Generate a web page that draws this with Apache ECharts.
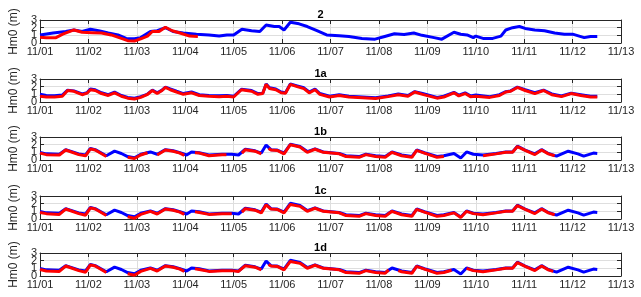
<!DOCTYPE html>
<html><head><meta charset="utf-8">
<script src="https://cdn.jsdelivr.net/npm/echarts@6/dist/echarts.min.js"></script>
<style>html,body{margin:0;padding:0;background:#fff}#c{width:641px;height:297px}</style>
</head><body><div id="c"></div>
<script>
const xLabels = ['11/01','11/02','11/03','11/04','11/05','11/06','11/07','11/08','11/09','11/10','11/11','11/12','11/13'];
const yLabels = ['0','1','2','3'];
const yTicksEven = [0, 2];
const yTicksOdd = [1, 3];
const panelTitles = ['2','1a','1b','1c','1d'];
const yName = 'Hm0 (m)';

// days since 11/01 00:00, Hm0 (m); null = gap
const blue2 = [[0,1.05],[0.27,1.3],[0.53,1.5],[0.7,1.7],[0.87,1.5],[1.04,1.8],[1.21,1.6],[1.41,1.3],[1.61,1.05],[1.78,0.6],[1.95,0.55],[2.08,0.7],[2.28,1.5],[2.42,1.6],[2.59,2.0],[2.75,1.5],[2.96,1.3],[3.23,1.15],[3.49,1.05],[3.7,0.9],[3.86,1.05],[4.0,1.05],[4.17,1.8],[4.37,1.6],[4.54,1.5],[4.67,2.35],[4.84,2.15],[4.94,2.15],[5.04,1.7],[5.17,2.7],[5.35,2.5],[5.52,2.15],[5.72,1.6],[5.92,1.05],[6.18,0.95],[6.38,0.85],[6.65,0.6],[6.92,0.5],[7.12,0.85],[7.32,1.2],[7.52,1.1],[7.72,1.3],[7.89,1.0],[8.14,0.7],[8.3,0.5],[8.55,1.4],[8.69,1.15],[8.82,1.05],[8.95,0.7],[9.0,0.9],[9.15,0.6],[9.35,0.6],[9.52,0.9],[9.62,1.7],[9.76,2.0],[9.9,2.15],[10.02,1.9],[10.22,1.7],[10.42,1.6],[10.63,1.3],[10.83,1.15],[11.0,1.15],[11.24,0.7],[11.37,0.85],[11.51,0.85]];
const red2 = [[0,0.75],[0.13,0.7],[0.33,0.7],[0.47,1.15],[0.7,1.7],[0.87,1.4],[1.08,1.35],[1.27,1.3],[1.47,1.05],[1.68,0.6],[1.81,0.3],[1.95,0.25],[2.08,0.55],[2.22,0.9],[2.32,1.5],[2.46,1.5],[2.59,2.05],[2.73,1.6],[2.89,1.3],[3.09,0.9],[3.26,0.85]];

const blue1a = [[0,1.0],[0.13,0.85],[0.3,0.8],[0.46,0.9],[0.57,1.55],[0.7,1.45],[0.87,1.05],[0.97,1.2],[1.04,1.7],[1.14,1.6],[1.27,1.2],[1.41,0.95],[1.54,1.3],[1.68,0.85],[1.81,0.6],[1.95,0.5],[2.08,0.7],[2.21,1.0],[2.32,1.55],[2.42,1.2],[2.52,1.55],[2.59,1.95],[2.69,1.7],[2.82,1.4],[2.96,1.1],[3.13,1.3],[3.29,0.95],[3.49,0.85],[3.7,0.8],[3.86,0.85],[4.0,0.75],[4.16,1.65],[4.37,1.5],[4.5,1.1],[4.6,1.15],[4.67,2.35],[4.74,1.85],[4.87,1.7],[4.98,1.3],[5.07,1.2],[5.17,2.35],[5.31,2.1],[5.45,1.85],[5.56,1.3],[5.68,1.7],[5.78,1.1],[5.98,0.75],[6.18,0.95],[6.38,0.75],[6.66,0.65],[6.93,0.55],[7.19,0.8],[7.4,1.05],[7.6,0.85],[7.74,1.35],[7.9,1.1],[8.2,0.6],[8.34,0.75],[8.55,1.25],[8.65,0.9],[8.78,1.2],[8.89,0.8],[9.0,0.9],[9.29,0.7],[9.49,0.95],[9.62,1.35],[9.72,1.45],[9.86,1.95],[10.02,1.6],[10.22,1.2],[10.4,1.55],[10.57,1.05],[10.77,0.8],[10.97,1.15],[11.17,0.95],[11.37,0.75],[11.51,0.75]];
const red1a = [[0,0.75],[0.13,0.65],[0.3,0.65],[0.46,0.75],[0.57,1.5],[0.7,1.4],[0.87,0.95],[0.97,1.15],[1.04,1.6],[1.14,1.5],[1.27,1.1],[1.41,0.85],[1.54,1.2],[1.68,0.75],[1.81,0.5],[1.95,0.4],[2.08,0.6],[2.21,0.95],[2.32,1.5],[2.42,1.1],[2.52,1.5],[2.59,1.9],[2.69,1.6],[2.82,1.3],[2.96,1.0],[3.13,1.2],[3.29,0.85],[3.49,0.75],[3.7,0.7],[3.86,0.75],[4.0,0.65],[4.16,1.6],[4.37,1.4],[4.5,1.0],[4.6,1.1],[4.67,2.3],[4.74,1.75],[4.87,1.6],[4.98,1.2],[5.07,1.15],[5.17,2.3],[5.31,2.0],[5.45,1.75],[5.56,1.2],[5.68,1.6],[5.78,1.0],[5.98,0.65],[6.18,0.85],[6.38,0.65],[6.66,0.55],[6.93,0.45],[7.19,0.7],[7.4,0.95],[7.6,0.75],[7.74,1.3],[7.9,1.0],[8.2,0.5],[8.34,0.65],[8.55,1.2],[8.65,0.8],[8.78,1.1],[8.89,0.7],[9.0,0.75],[9.29,0.6],[9.49,0.85],[9.62,1.3],[9.72,1.4],[9.86,1.9],[10.02,1.5],[10.22,1.1],[10.4,1.5],[10.57,0.95],[10.77,0.7],[10.97,1.1],[11.17,0.85],[11.37,0.65],[11.51,0.65]];

const blue1 = [[0,1.0],[0.13,0.8],[0.4,0.75],[0.53,1.35],[0.57,1.4],[0.8,0.8],[0.94,0.65],[1.04,1.5],[1.14,1.35],[1.37,0.55],[1.54,1.15],[1.68,0.85],[1.81,0.45],[1.95,0.3],[2.08,0.75],[2.28,1.05],[2.42,0.75],[2.59,1.35],[2.75,1.2],[2.89,0.95],[3.03,0.65],[3.13,1.05],[3.29,0.95],[3.49,0.65],[3.76,0.75],[3.96,0.75],[4.1,0.65],[4.24,1.4],[4.44,1.2],[4.57,0.9],[4.67,1.95],[4.77,1.35],[4.9,1.3],[5.04,0.9],[5.17,2.05],[5.37,1.75],[5.52,1.1],[5.68,1.45],[5.85,1.05],[6.18,0.85],[6.32,0.55],[6.59,0.45],[6.73,0.75],[6.93,0.55],[7.13,0.45],[7.27,1.05],[7.47,0.65],[7.68,0.45],[7.78,1.3],[7.94,0.95],[8.2,0.45],[8.34,0.55],[8.55,0.85],[8.69,0.25],[8.81,1.05],[8.95,0.75],[9.15,0.65],[9.42,0.85],[9.62,1.05],[9.76,1.05],[9.86,1.8],[10.02,1.3],[10.22,0.8],[10.36,1.35],[10.5,0.85],[10.67,0.5],[10.91,1.15],[11.11,0.8],[11.23,0.5],[11.43,0.9],[11.51,0.85]];
const red1b = [[0,0.9],[0.13,0.7],[0.4,0.65],[0.53,1.3],[0.57,1.35],[0.8,0.7],[0.94,0.55],[1.04,1.45],[1.14,1.3],[1.37,0.45],null,[1.81,0.35],[1.95,0.2],[2.08,0.65],[2.22,0.95],null,[2.42,0.65],[2.59,1.3],[2.75,1.15],[2.89,0.9],[2.98,0.6],null,[3.2,0.95],[3.29,0.9],[3.49,0.55],[3.76,0.7],[3.85,0.7],null,[4.17,0.9],[4.24,1.35],[4.44,1.15],[4.57,0.8],null,[4.72,1.5],[4.77,1.3],[4.9,1.25],[5.04,0.8],[5.17,2.0],[5.37,1.7],[5.52,1.0],[5.68,1.4],[5.85,1.0],[6.18,0.8],[6.32,0.45],[6.59,0.35],[6.73,0.7],[6.93,0.45],[7.13,0.35],[7.27,1.0],[7.47,0.55],[7.68,0.35],[7.78,1.25],[7.94,0.9],[8.2,0.35],[8.34,0.45],null,[9.15,0.55],[9.42,0.8],[9.62,1.0],[9.76,1.0],[9.86,1.75],[10.02,1.25],[10.22,0.7],[10.36,1.3],[10.5,0.8],[10.63,0.55]];
const red1c = [[0,0.85],[0.13,0.7],[0.4,0.6],[0.53,1.3],[0.57,1.35],[0.8,0.7],[0.94,0.5],[1.04,1.45],[1.14,1.3],[1.37,0.45],null,[1.81,0.3],[1.95,0.1],[2.08,0.6],[2.28,1.0],[2.42,0.65],[2.59,1.3],[2.75,1.15],[2.89,0.9],[2.98,0.6],null,[3.2,0.95],[3.29,0.85],[3.49,0.6],[3.76,0.7],[3.96,0.7],null,[4.17,0.9],[4.24,1.35],[4.44,1.15],[4.57,0.8],[4.67,1.85],[4.77,1.3],[4.9,1.25],[5.04,0.8],[5.17,1.9],[5.37,1.65],[5.52,1.0],[5.68,1.4],[5.85,1.0],[6.18,0.8],[6.32,0.45],[6.59,0.35],[6.73,0.7],[6.93,0.45],[7.13,0.35],[7.27,1.0],[7.47,0.55],[7.68,0.35],[7.78,1.25],[7.94,0.9],[8.2,0.35],[8.34,0.45],[8.55,0.8],[8.69,0.2],[8.81,1.0],[8.95,0.7],[9.15,0.55],[9.42,0.8],[9.62,1.0],[9.76,1.0],[9.86,1.75],[10.02,1.25],[10.22,0.7],[10.36,1.3],[10.5,0.8],[10.63,0.55]];
const red1d = [[0,0.85],[0.13,0.65],[0.4,0.6],[0.53,1.3],[0.57,1.35],[0.8,0.7],[0.94,0.5],[1.04,1.45],[1.14,1.3],[1.37,0.45],null,[1.81,0.3],[1.95,0.1],[2.08,0.6],[2.28,1.0],[2.42,0.65],[2.59,1.3],[2.75,1.15],[2.89,0.9],[2.98,0.6],null,[3.2,0.95],[3.29,0.85],[3.49,0.6],[3.76,0.7],[3.96,0.7],[4.1,0.6],[4.24,1.35],[4.44,1.15],[4.57,0.8],null,[4.72,1.5],[4.77,1.3],[4.9,1.25],[5.04,0.8],[5.17,1.9],[5.37,1.65],[5.52,1.0],[5.68,1.4],[5.85,1.0],[6.18,0.8],[6.32,0.45],[6.59,0.35],[6.73,0.7],[6.93,0.45],[7.13,0.35],[7.2,0.8],null,[7.4,0.7],[7.47,0.55],[7.68,0.35],[7.78,1.25],[7.94,0.9],[8.2,0.35],[8.34,0.45],[8.5,0.75],null,[8.81,1.0],[8.95,0.7],[9.15,0.55],[9.42,0.8],[9.62,1.0],[9.76,1.0],[9.86,1.75],[10.02,1.25],[10.22,0.7],[10.36,1.3],[10.5,0.8],[10.6,0.6]];

const panelBlue = [blue2, blue1a, blue1, blue1, blue1];
const panelRed = [red2, red1a, red1b, red1c, red1d];

const gridTops = [20, 79, 137, 196, 253];
const GH = 23;
const FONT = 'Liberation Sans, Arial, Helvetica, sans-serif';
const gridLineColor = '#dedede';
const axisColor = '#262626';

const grids = [], xAxes = [], yAxes = [], series = [], titles = [];
const toData = arr => arr.map(p => p === null ? ['-', '-'] : p);
const yLabelStyle = vals => ({show: true, margin: 3, fontSize: 11, color: axisColor, fontFamily: FONT,
  customValues: vals, showMinLabel: true, showMaxLabel: true, hideOverlap: false,
  formatter: v => yLabels[Math.round(v)]});

panelTitles.forEach((t, i) => {
  grids.push({left: 27, right: 20, top: gridTops[i], height: GH, containLabel: false});
  titles.push({text: t, left: 'center', top: gridTops[i] - 16,
    textStyle: {fontSize: 11, fontWeight: 'bold', color: '#000', fontFamily: FONT}});
  xAxes.push({gridIndex: i, type: 'value', min: 0, max: 12, interval: 1, position: 'bottom',
    axisLine: {show: true, onZero: false, lineStyle: {color: axisColor, width: 1}},
    axisTick: {show: true, inside: true, length: 4, lineStyle: {color: axisColor}},
    axisLabel: {show: true, margin: 3, fontSize: 11, color: axisColor, fontFamily: FONT,
      showMinLabel: true, showMaxLabel: true, hideOverlap: false,
      formatter: v => xLabels[Math.round(v)]},
    splitLine: {show: true, lineStyle: {color: gridLineColor, width: 1}}});
  xAxes.push({gridIndex: i, type: 'value', min: 0, max: 12, interval: 1, position: 'top',
    axisLine: {show: true, onZero: false, lineStyle: {color: axisColor, width: 1}},
    axisTick: {show: true, inside: true, length: 4, lineStyle: {color: axisColor}},
    axisLabel: {show: false}, splitLine: {show: false}});
  yAxes.push({gridIndex: i, type: 'value', min: 0, max: 3, interval: 1, position: 'left',
    name: yName, nameLocation: 'middle', nameGap: 19, nameRotate: 90,
    nameTextStyle: {fontSize: 12, color: axisColor, fontFamily: FONT},
    axisLine: {show: true, onZero: false, lineStyle: {color: axisColor, width: 1}},
    axisTick: {show: true, inside: true, length: 4, lineStyle: {color: axisColor}},
    axisLabel: yLabelStyle(yTicksEven),
    splitLine: {show: true, lineStyle: {color: gridLineColor, width: 1}}});
  yAxes.push({gridIndex: i, type: 'value', min: 0, max: 3, interval: 1, position: 'right',
    axisLine: {show: true, onZero: false, lineStyle: {color: axisColor, width: 1}},
    axisTick: {show: true, inside: true, length: 4, lineStyle: {color: axisColor}},
    axisLabel: {show: false}, splitLine: {show: false}});
  yAxes.push({gridIndex: i, type: 'value', min: 0, max: 3, interval: 1, position: 'left', offset: 0,
    axisLine: {show: false}, axisTick: {show: false}, splitLine: {show: false},
    axisLabel: yLabelStyle(yTicksOdd)});
  series.push({type: 'line', xAxisIndex: 2 * i, yAxisIndex: 3 * i, data: toData(panelBlue[i]),
    showSymbol: false, symbol: 'none', connectNulls: false, animation: false, clip: true,
    lineStyle: {color: '#0000ff', width: 3}, itemStyle: {color: '#0000ff'}, z: 2});
  series.push({type: 'line', xAxisIndex: 2 * i, yAxisIndex: 3 * i, data: toData(panelRed[i]),
    showSymbol: false, symbol: 'none', connectNulls: false, animation: false, clip: true,
    lineStyle: {color: '#ff0000', width: 3}, itemStyle: {color: '#ff0000'}, z: 3});
});

const chart = echarts.init(document.getElementById('c'), null, {renderer: 'canvas'});
chart.setOption({animation: false, backgroundColor: '#fff', title: titles, grid: grids,
  xAxis: xAxes, yAxis: yAxes, series: series});
</script></body></html>
